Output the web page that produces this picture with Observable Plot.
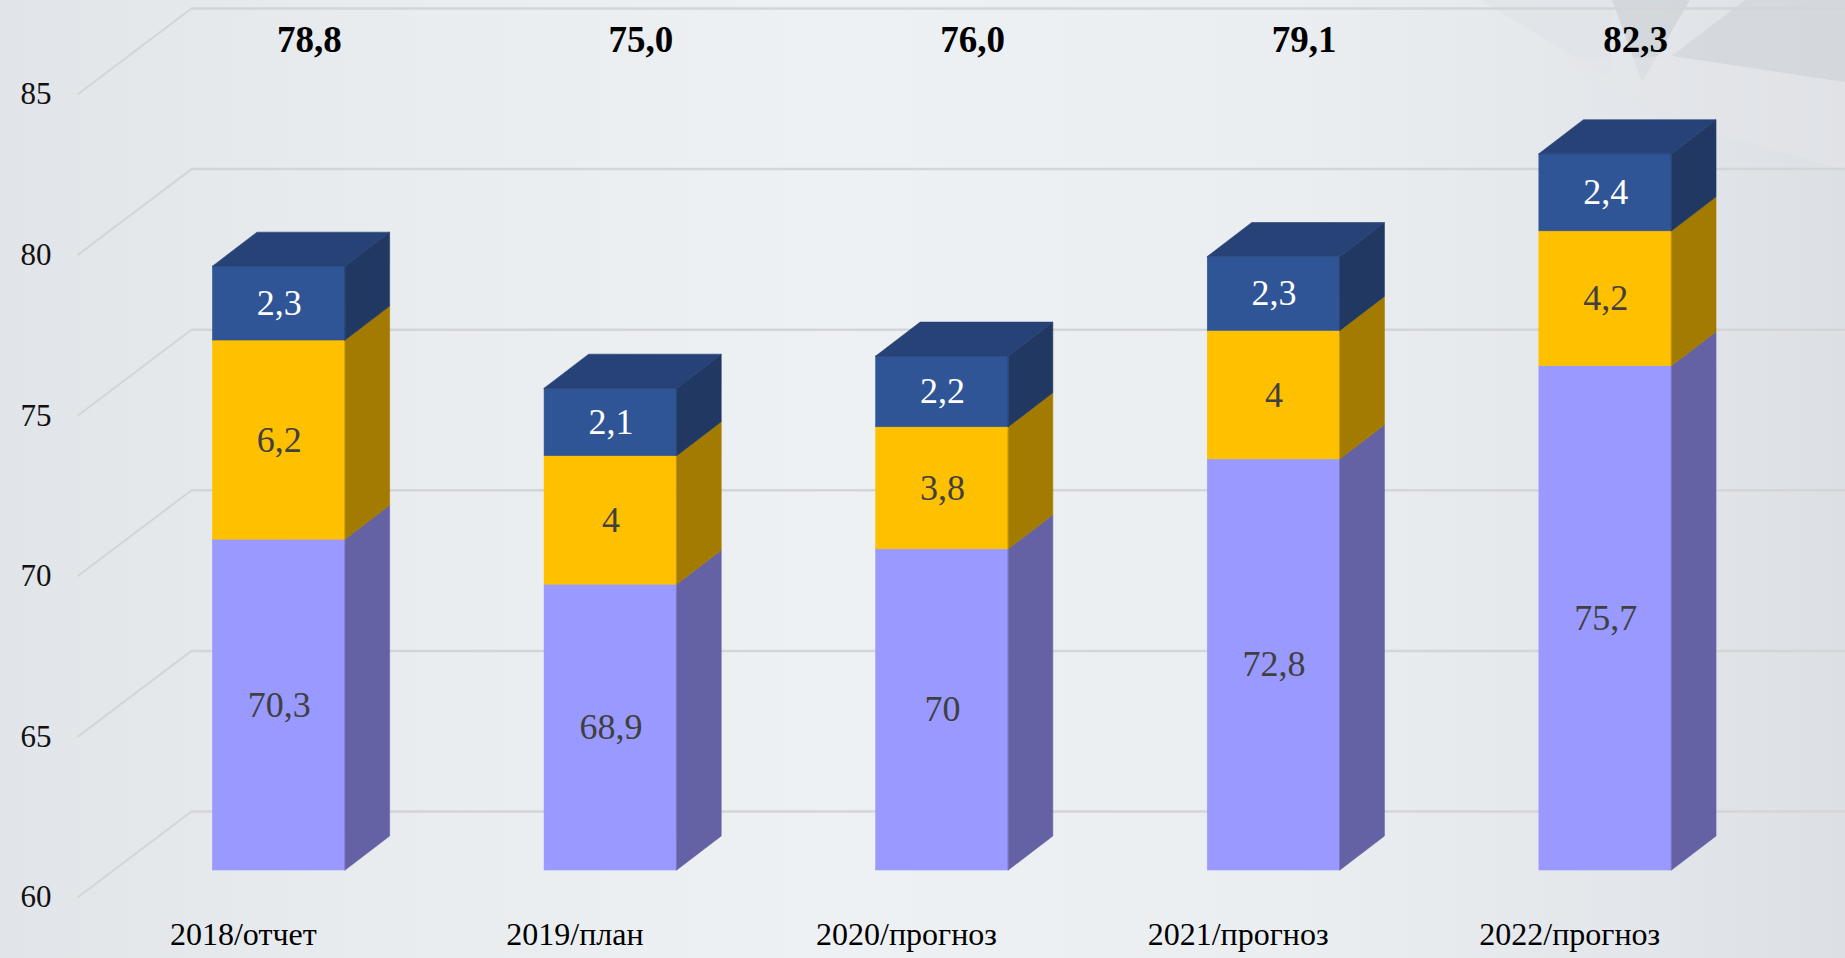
<!DOCTYPE html>
<html>
<head>
<meta charset="utf-8">
<script src="https://cdn.jsdelivr.net/npm/d3@7"></script>
<script src="https://cdn.jsdelivr.net/npm/@observablehq/plot@0.6"></script>
<style>
  html, body { margin: 0; padding: 0; width: 1845px; height: 958px; overflow: hidden; }
  body {
    position: relative;
    background: linear-gradient(90deg, #e1e4e8 0%, #e9ecef 20%, #eef1f3 45%, #ebeef1 70%, #e2e5e9 90%, #dcdfe3 100%);
    font-family: "Liberation Serif", "Times New Roman", serif;
  }
  #deco { position: absolute; left: 0; top: 0; width: 1845px; height: 958px; pointer-events: none; }
  #chart { position: absolute; left: 0; top: 0; }
  #chart svg, #chart svg text { font-family: "Liberation Serif", "Times New Roman", serif !important; }
</style>
</head>
<body>
<svg id="deco" width="1845" height="958">
  <polygon points="1480,0 1612,0 1610,78" fill="#dfe3e7" opacity="0.7"></polygon>
  <polygon points="1612,0 1690,0 1642,82" fill="#c9ced4" opacity="0.6"></polygon>
  <polygon points="1672,56 1745,0 1845,0 1845,82" fill="#cfd3d8" opacity="0.65"></polygon>
  <polygon points="1560,60 1700,130 1845,170 1845,82 1672,56" fill="#e3e6ea" opacity="0.5"></polygon>
</svg>
<div id="chart"></div>
<script>
// ---- data ----
const categories = ["2018/отчет", "2019/план", "2020/прогноз", "2021/прогноз", "2022/прогноз"];
const baseValues = [70.3, 68.9, 70, 72.8, 75.7];   // нижний сегмент
const midValues  = [6.2, 4, 3.8, 4, 4.2];          // средний сегмент
const topValues  = [2.3, 2.1, 2.2, 2.3, 2.4];      // верхний сегмент
const totals     = [78.8, 75.0, 76.0, 79.1, 82.3];
const yTicks     = [60, 65, 70, 75, 80, 85];
const yDomain    = [60, 85];

// ---- styling / projection constants ----
const W = 1845, H = 958, mL = 77, mR = 110, mT = 94, mB = 61;
const pxX = (W - mL - mR) / categories.length;
const pxY = (H - mT - mB) / (yDomain[1] - yDomain[0]);
const barDx = 36, barDy = -27;        // bar plane offset from the front plane
const depthX = 44.5, depthY = 34;     // bar depth (oblique projection)
const wallDx = 114, wallDy = -86;     // back wall offset
const hw = 0.2;                        // half bar width in category units
const du = depthX / pxX, dv = depthY / pxY;
const FONT = "Liberation Serif, Times New Roman, serif";

const seriesStyles = [
  {values: baseValues, front: "#9999FF", side: "#6462A5", label: "#404040"},
  {values: midValues,  front: "#FFC000", side: "#A37B00", label: "#404040"},
  {values: topValues,  front: "#2F5597", side: "#203862", top: "#264276", label: "#FFFFFF"}
];

const fmt = v => String(v).replace(".", ",");
const idx = categories.map((_, i) => i);

// build stacked segments
const cum = idx.map(() => 0);
const segsBySeries = seriesStyles.map((st, s) => idx.map(i => {
  const lo = cum[i], hi = lo + st.values[i];
  cum[i] = hi;
  return {i, s, v: st.values[i], y1: Math.max(lo, yDomain[0]), y2: hi};
}));

const gridColor = "#d3d5d8";
const marks = [
  Plot.ruleY(yTicks, {y: d => d, dx: wallDx, dy: wallDy, stroke: gridColor, strokeWidth: 2.5}),
  Plot.link(yTicks, {
    x1: () => -0.5, y1: d => d,
    x2: () => -0.5 + wallDx / pxX, y2: d => d - wallDy / pxY,
    stroke: gridColor, strokeWidth: 2
  })
];

seriesStyles.forEach((st, s) => {
  const segs = segsBySeries[s];
  marks.push(Plot.rect(segs, {
    x1: d => d.i - hw, x2: d => d.i + hw, y1: "y1", y2: "y2",
    fill: st.front, stroke: st.front, strokeWidth: 0.6, dx: barDx, dy: barDy
  }));
  const sidePts = segs.flatMap(d => [
    {k: d.i, x: d.i + hw, y1: d.y1, y2: d.y2},
    {k: d.i, x: d.i + hw + du, y1: d.y1 + dv, y2: d.y2 + dv}
  ]);
  marks.push(Plot.areaY(sidePts, {
    x: "x", y1: "y1", y2: "y2", z: "k", curve: "linear",
    fill: st.side, stroke: st.side, strokeWidth: 0.6, dx: barDx, dy: barDy
  }));
  if (st.top) {
    const topPts = segs.flatMap(d => [
      {k: d.i, y: d.y2, x1: d.i - hw, x2: d.i + hw},
      {k: d.i, y: d.y2 + dv, x1: d.i - hw + du, x2: d.i + hw + du}
    ]);
    marks.push(Plot.areaX(topPts, {
      y: "y", x1: "x1", x2: "x2", z: "k", curve: "linear",
      fill: st.top, stroke: st.top, strokeWidth: 0.6, dx: barDx, dy: barDy
    }));
  }
  marks.push(Plot.text(segs, {
    x: "i", y: d => (d.y1 + d.y2) / 2, text: d => fmt(d.v),
    fill: st.label, fontSize: 36, fontFamily: FONT, dx: barDx, dy: barDy
  }));
});

// totals above
marks.push(Plot.text(idx, {
  x: d => d, frameAnchor: "top", lineAnchor: "middle", dy: -54, dx: 66,
  text: d => totals[d].toFixed(1).replace(".", ","),
  fill: "#000", fontWeight: "bold", fontSize: 37, fontFamily: FONT
}));
// category labels
marks.push(Plot.text(idx, {
  x: d => d, frameAnchor: "bottom", lineAnchor: "middle", dy: 37,
  text: d => categories[d], fill: "#000", fontSize: 32, fontFamily: FONT
}));
// y axis labels
marks.push(Plot.axisY({
  ticks: yTicks, tickSize: 0, tickPadding: 26, fontSize: 31, label: null,
  tickFormat: d => String(d), fill: "#111", fontFamily: FONT
}));

const chart = Plot.plot({
  width: W, height: H,
  marginLeft: mL, marginRight: mR, marginTop: mT, marginBottom: mB,
  x: {type: "linear", domain: [-0.5, categories.length - 0.5], axis: null},
  y: {type: "linear", domain: yDomain, axis: null},
  style: {background: "transparent", fontFamily: FONT, color: "#111", overflow: "visible"},
  marks
});
document.getElementById("chart").appendChild(chart);
</script>
</body>
</html>
